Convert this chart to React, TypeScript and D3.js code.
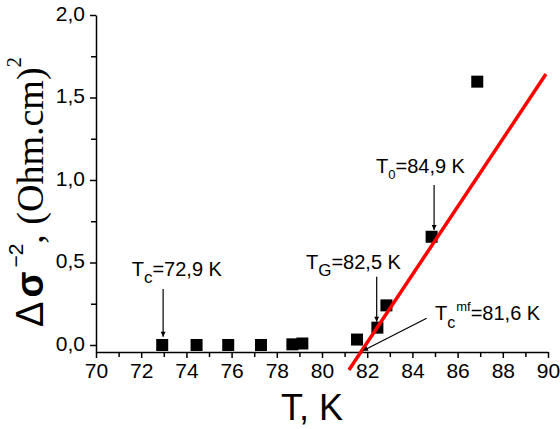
import * as d3 from 'd3'
import React, { useEffect, useRef } from 'react'

// measured points, T in K and delta sigma^-2
const temps = [72.93, 74.45, 75.85, 77.3, 78.69, 79.13, 81.55, 82.45, 82.85, 84.85, 86.87]
const sigmaVals = [0, 0, 0, 0, 0.004, 0.009, 0.033, 0.105, 0.24, 0.656, 1.596]

// red linear fit, end points
const fitT = [81.19, 89.91]
const fitVals = [-0.152, 1.642]

const xTicks = d3.range(70, 91, 1)
const yTicks = d3.range(0, 2.001, 0.25)

// annotations: label parts, text anchor and arrow (from -> to), in data units
const noteNames = ['Tc', 'TG', 'T0', 'Tcmf']
const noteTextT = [71.58, 79.29, 82.39, 85.0]
const noteTextV = [0.418, 0.459, 1.044, 0.152]
const noteArrowFrom = [
    [72.97, 0.339],
    [82.42, 0.414],
    [84.96, 0.97],
    [84.63, 0.162],
]
const noteArrowTo = [
    [72.97, 0.05],
    [82.42, 0.141],
    [84.96, 0.697],
    [81.81, -0.035],
]
const noteValues = ['=72,9 K', '=82,5 K', '=84,9 K', '=81,6 K']

const sans = 'Liberation Sans, Arial, sans-serif'
const serif = 'Liberation Serif, Times New Roman, serif'

const App = (): JSX.Element => {
    const width = 560
    const height = 429
    const margin = { top: 15, right: 12, bottom: 77, left: 96 }
    const xAxisRef = useRef<SVGGElement>(null)
    const yAxisRef = useRef<SVGGElement>(null)

    const xScale = d3
        .scaleLinear()
        .domain([70, 90])
        .range([margin.left, width - margin.right])

    const yScale = d3
        .scaleLinear()
        .domain([-0.0425, 2])
        .range([height - margin.bottom, margin.top])

    const fmt = (v: number) => d3.format('.1f')(v).replace('.', ',')

    useEffect(() => {
        const xAxis = d3
            .axisBottom(xScale)
            .tickValues(xTicks)
            .tickFormat((d: any) => (d % 2 === 0 ? `${d}` : ''))
            .tickSize(6)
            .tickSizeOuter(0)
            .tickPadding(5)
        const gx = d3.select(xAxisRef.current)
        gx.selectAll('*').remove()
        gx.call(xAxis as any)

        const yAxis = d3
            .axisLeft(yScale)
            .tickValues(yTicks)
            .tickFormat((d: any) => (Math.abs((d * 2) % 1) < 1e-6 ? fmt(d) : ''))
            .tickSize(6)
            .tickSizeOuter(0)
            .tickPadding(5)
        const gy = d3.select(yAxisRef.current)
        gy.selectAll('*').remove()
        gy.call(yAxis as any)

        // styling for both axes
        ;[gx, gy].forEach((g) => {
            g.select('.domain').attr('stroke', '#000').attr('stroke-width', 1.5)
            g.selectAll('.tick line').attr('stroke', '#000').attr('stroke-width', 1.5)
            g.selectAll('.tick text')
                .attr('fill', '#000')
                .style('font-family', sans)
                .style('font-size', '21px')
        })
        gy.selectAll('.tick text').attr('dy', '0.26em')
        // minor ticks a bit shorter
        gx.selectAll('.tick line').filter((d: any) => d % 2 !== 0).attr('y2', 5)
        gy.selectAll('.tick line')
            .filter((d: any) => Math.abs((d * 2) % 1) > 1e-6)
            .attr('x2', -5)
    }, [])

    const fitLine = d3
        .line<number>()
        .x((d, i) => xScale(fitT[i]))
        .y((d) => yScale(d))

    const sq = 12

    const renderLabel = (name: string, i: number) => {
        if (name === 'Tc')
            return (
                <>
                    <tspan>T</tspan>
                    <tspan dy={7} fontSize={17}>c</tspan>
                    <tspan dy={-7}>{noteValues[i]}</tspan>
                </>
            )
        if (name === 'TG')
            return (
                <>
                    <tspan>T</tspan>
                    <tspan dy={7} fontSize={17}>G</tspan>
                    <tspan dy={-7}>{noteValues[i]}</tspan>
                </>
            )
        if (name === 'T0')
            return (
                <>
                    <tspan>T</tspan>
                    <tspan dy={6} fontSize={13}>0</tspan>
                    <tspan dy={-6}>{noteValues[i]}</tspan>
                </>
            )
        return (
            <>
                <tspan>T</tspan>
                <tspan dy={8} fontSize={16}>c</tspan>
                <tspan dx={1} dy={-17} fontSize={13}>mf</tspan>
                <tspan dy={9}>{noteValues[i]}</tspan>
            </>
        )
    }

    return (
        <svg
            width={width}
            height={height}
            style={{ position: 'absolute', left: 0, top: 0, background: '#fff' }}
        >
            <defs>
                <marker
                    id="arrow"
                    viewBox="0 0 10 10"
                    refX={10}
                    refY={5}
                    markerWidth={7}
                    markerHeight={5}
                    markerUnits="userSpaceOnUse"
                    orient="auto"
                >
                    <path d="M0,0 L10,5 L0,10 z" fill="#000" />
                </marker>
            </defs>

            <g ref={xAxisRef} transform={`translate(0,${height - margin.bottom})`} />
            <g ref={yAxisRef} transform={`translate(${margin.left},0)`} />

            {temps.map((t, i) => (
                <rect
                    key={`p-${i}`}
                    x={xScale(t) - sq / 2}
                    y={yScale(sigmaVals[i]) - sq / 2}
                    width={sq}
                    height={sq}
                    fill="#000"
                />
            ))}

            <path d={fitLine(fitVals) || ''} stroke="#ff0000" strokeWidth={3.5} fill="none" />

            {noteNames.map((name, i) => (
                <g key={name}>
                    <line
                        x1={xScale(noteArrowFrom[i][0])}
                        y1={yScale(noteArrowFrom[i][1])}
                        x2={xScale(noteArrowTo[i][0])}
                        y2={yScale(noteArrowTo[i][1])}
                        stroke="#000"
                        strokeWidth={1.2}
                        markerEnd="url(#arrow)"
                    />
                    <text
                        x={xScale(noteTextT[i])}
                        y={yScale(noteTextV[i])}
                        fill="#000"
                        style={{ fontFamily: sans, fontSize: 20 }}
                    >
                        {renderLabel(name, i)}
                    </text>
                </g>
            ))}

            <text
                x={(xScale(70) + xScale(90)) / 2 - 10}
                y={420}
                textAnchor="middle"
                fill="#000"
                style={{ fontFamily: sans, fontSize: 36 }}
            >
                T, K
            </text>

            <text transform="translate(43,327) rotate(-90)" fill="#000">
                <tspan style={{ fontFamily: sans, fontSize: 38 }}>Δ</tspan>
                <tspan dx={4} style={{ fontFamily: sans, fontSize: 38, fontWeight: 'bold' }}>
                    σ
                </tspan>
                <tspan dx={4} dy={-20} style={{ fontFamily: sans, fontSize: 21 }}>
                    −2
                </tspan>
                <tspan dy={20} style={{ fontFamily: serif, fontSize: 38 }}>
                    , (Ohm.cm)
                </tspan>
                <tspan dy={-22} style={{ fontFamily: serif, fontSize: 21 }}>
                    2
                </tspan>
            </text>
        </svg>
    )
}

export default App
